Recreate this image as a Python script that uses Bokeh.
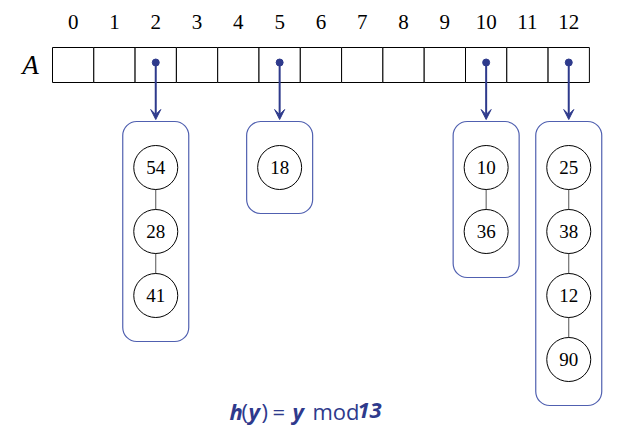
from bokeh.plotting import figure
from bokeh.models import Arrow, VeeHead, Range1d
from bokeh.core.properties import value
from bokeh.embed import file_html
from bokeh.resources import INLINE

# data
n_slots = 13
slot_labels = [str(i) for i in range(n_slots)]
buckets = [2, 5, 10, 12]
chains = [[54, 28, 41], [18], [10, 36], [25, 38, 12, 90]]

# layout in reference pixel space
x0, cw = 52, 41.3
y_top, y_bot = 47, 82
node_y0, node_dy = 167, 64
BLUE = "#2e3a8c"

p = figure(width=606, height=426, output_backend="svg", toolbar_location=None,
           x_range=Range1d(0, 606), y_range=Range1d(426, 0), min_border=0)
p.axis.visible = False
p.grid.visible = False
p.outline_line_color = None

# array cells
lefts = [x0 + cw * i for i in range(n_slots)]
p.quad(left=lefts, right=[l + cw for l in lefts], top=[y_top] * n_slots, bottom=[y_bot] * n_slots,
       fill_color="white", line_color="black", line_width=1)
centers = [l + cw / 2 for l in lefts]
p.text(x=centers, y=[21] * n_slots, text=slot_labels, text_align="center", text_baseline="middle",
       text_font=value("Liberation Serif"), text_font_size="21px")
p.text(x=[30], y=[64], text=["A"], text_align="center", text_baseline="middle",
       text_font=value("Liberation Serif"), text_font_style="italic", text_font_size="27px")

for b, chain in zip(buckets, chains):
    cx = centers[b]
    ys = [node_y0 + node_dy * k for k in range(len(chain))]
    # bucket box
    p.quad(left=[cx - 33], right=[cx + 33], top=[121], bottom=[ys[-1] + 46],
           fill_color=None, line_color="#5060b0", line_width=1.2, border_radius=14)
    # arrow from slot
    p.scatter([cx], [62], size=7, color=BLUE)
    p.add_layout(Arrow(x_start=cx, y_start=62, x_end=cx, y_end=119, line_color=BLUE, line_width=2,
                       end=VeeHead(size=10, fill_color=BLUE, line_color=BLUE)))
    # chain links
    if len(chain) > 1:
        p.line([cx] * len(ys), ys, line_color="#555555", line_width=1)
    p.scatter([cx] * len(ys), ys, size=44, fill_color="white", line_color="black", line_width=1)
    p.text(x=[cx] * len(ys), y=ys, text=[str(v) for v in chain], text_align="center",
           text_baseline="middle", text_font=value("Liberation Serif"), text_font_size="19px")

# formula
parts = ["h", "(", "y", ")", "=", "y", "mod", "13"]
px = [229, 241, 248, 261, 272, 292, 312, 357]
styles = ["bold italic", "normal", "bold italic", "normal", "normal", "bold italic", "normal", "bold italic"]
for t, x, s in zip(parts, px, styles):
    p.text(x=[x], y=[410], text=[t], text_align="left", text_baseline="middle",
           text_font=value("Open Sans"), text_font_style=s, text_font_size="22px", text_color=BLUE)

open("out.html", "w").write(file_html(p, INLINE))
